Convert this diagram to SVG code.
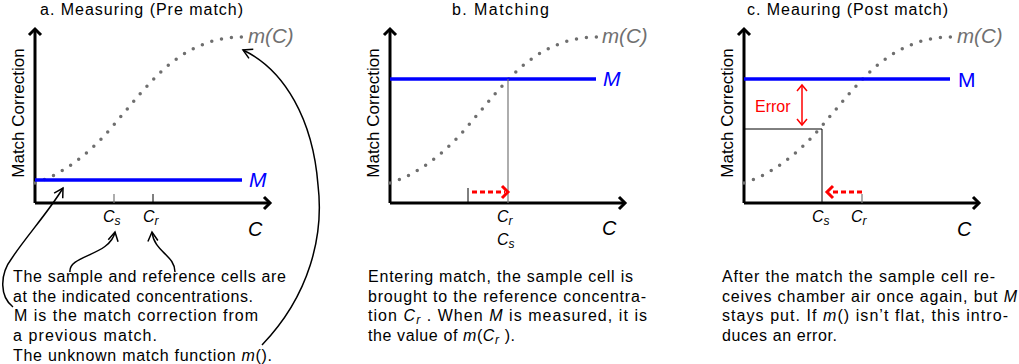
<svg xmlns="http://www.w3.org/2000/svg" width="1019" height="364" viewBox="0 0 1019 364">
<defs>
<style>
text{font-family:"Liberation Sans",Arial,sans-serif;fill:#000}
.title{font-size:16px}
.ylab{font-size:17px;text-anchor:middle}
.para{font-size:16px}
.it{font-style:italic}
.mc{font-size:20.5px;font-style:italic;fill:#707070}
.mlab{font-size:21px;fill:#0000ff}
.tick{font-size:16px;font-style:italic}
.sub{font-size:12px;font-style:italic}
.cax{font-size:20px;font-style:italic}
.axis{fill:none;stroke:#000;stroke-width:3;stroke-linejoin:miter}
.curve{fill:none;stroke:#6e6e6e;stroke-width:3.5;stroke-linecap:round;stroke-dasharray:0 10}
.mline{stroke:#0000ff;stroke-width:3.5}
.thin{stroke:#000;stroke-width:1;fill:none}
.gthin{stroke:#777;stroke-width:1.2;fill:none}
.conn{fill:none;stroke:#000;stroke-width:1.5;marker-end:url(#ah)}
.reddot{fill:none;stroke:#ff0000;stroke-width:3;stroke-dasharray:5 3}
.redhead{fill:none;stroke:#ff0000;stroke-width:3}
.err{fill:none;stroke:#ff0000;stroke-width:1.5;marker-start:url(#rh);marker-end:url(#rh)}
</style>
<marker id="ah" markerUnits="userSpaceOnUse" orient="auto" refX="0" refY="0" overflow="visible">
<path d="M -9,-5 L 0,0 L -9,5" fill="none" stroke="#000" stroke-width="1.5"/>
</marker>
<marker id="rh" markerUnits="userSpaceOnUse" orient="auto-start-reverse" refX="0" refY="0" overflow="visible">
<path d="M -6,-5 L 0,0 L -6,5" fill="none" stroke="#ff0000" stroke-width="1.5"/>
</marker>
<path id="mcurve" d="M 0,183 C 25,175 50,158 75,129.3 C 96,105 116.7,77.7 137.7,61.7 C 160.7,44.2 184,37 207,37"/>
</defs>

<!-- Panel a -->
<g id="panel-a">
<text class="title" x="40" y="15" textLength="203" lengthAdjust="spacing">a.  Measuring (Pre match)</text>
<g id="a-axes">
<polyline class="axis" points="35,203 35,29"/>
<polyline class="axis" points="29,35 35,29 41,35"/>
<polyline class="axis" points="35,203 270,203"/>
<polyline class="axis" points="264,197 270,203 264,209"/>
<text class="ylab" transform="translate(24,113) rotate(-90)">Match Correction</text>
<text class="cax" x="248" y="236">C</text>
</g>
<g id="a-curve">
<use href="#mcurve" class="curve" transform="translate(35,0)"/>
<text class="mc" x="248" y="43">m(C)</text>
</g>
<g id="a-M">
<line class="mline" x1="35" y1="180" x2="242" y2="180"/>
<text class="mlab it" x="249" y="187">M</text>
</g>
<g id="a-ticks">
<line class="gthin" x1="114" y1="194" x2="114" y2="203"/>
<line class="thin" x1="153" y1="194" x2="153" y2="203"/>
<text class="tick" x="103" y="222">C<tspan class="sub" dy="3">s</tspan></text>
<text class="tick" x="143" y="222">C<tspan class="sub" dy="3">r</tspan></text>
</g>
<g id="a-text" class="para">
<text x="13" y="282" textLength="273" lengthAdjust="spacing">The sample and reference cells are</text>
<text x="13" y="301.5" textLength="240" lengthAdjust="spacing">at the indicated concentrations.</text>
<text x="14" y="321" textLength="244" lengthAdjust="spacing">M is the match correction from</text>
<text x="13" y="341" textLength="144" lengthAdjust="spacing">a previous match.</text>
<text x="13" y="360.5" textLength="259" lengthAdjust="spacing">The unknown match function <tspan class="it">m</tspan>().</text>
</g>
</g>

<!-- Panel b -->
<g id="panel-b">
<text class="title" x="452" y="15" textLength="97" lengthAdjust="spacing">b.  Matching</text>
<g id="b-axes">
<polyline class="axis" points="390,203 390,29"/>
<polyline class="axis" points="384,35 390,29 396,35"/>
<polyline class="axis" points="390,203 625,203"/>
<polyline class="axis" points="619,197 625,203 619,209"/>
<text class="ylab" transform="translate(379,113) rotate(-90)">Match Correction</text>
<text class="cax" x="602" y="235">C</text>
</g>
<g id="b-curve">
<use href="#mcurve" class="curve" transform="translate(390,0)"/>
<text class="mc" x="602" y="43">m(C)</text>
</g>
<g id="b-M">
<line class="mline" x1="390" y1="79" x2="596" y2="79"/>
<text class="mlab it" x="603" y="86">M</text>
</g>
<g id="b-ticks">
<line class="gthin" x1="508" y1="79" x2="508" y2="203"/>
<line class="thin" x1="468" y1="188" x2="468" y2="203"/>
<text class="tick" x="497" y="222">C<tspan class="sub" dy="3">r</tspan></text>
<text class="tick" x="497" y="245">C<tspan class="sub" dy="3">s</tspan></text>
</g>
<g id="b-text" class="para">
<text x="368" y="282" textLength="265" lengthAdjust="spacing">Entering match, the sample cell is</text>
<text x="368" y="301.5" textLength="278" lengthAdjust="spacing">brought to the reference concentra-</text>
<text x="368" y="321" textLength="279" lengthAdjust="spacing">tion <tspan class="it">C</tspan><tspan class="sub" dy="3">r</tspan><tspan dy="-3"> .  When </tspan><tspan class="it">M</tspan>  is measured, it is</text>
<text x="368" y="341" textLength="147" lengthAdjust="spacing">the value of <tspan class="it">m</tspan>(<tspan class="it">C</tspan><tspan class="sub" dy="3">r</tspan><tspan dy="-3"> ).</tspan></text>
</g>
</g>

<!-- Panel c -->
<g id="panel-c">
<text class="title" x="747" y="15" textLength="201" lengthAdjust="spacing">c.  Meauring (Post match)</text>
<g id="c-axes">
<polyline class="axis" points="744,203 744,29"/>
<polyline class="axis" points="738,35 744,29 750,35"/>
<polyline class="axis" points="744,203 979,203"/>
<polyline class="axis" points="973,197 979,203 973,209"/>
<text class="ylab" transform="translate(733,113) rotate(-90)">Match Correction</text>
<text class="cax" x="957" y="236">C</text>
</g>
<g id="c-curve">
<use href="#mcurve" class="curve" transform="translate(744,0)"/>
<text class="mc" x="957" y="43">m(C)</text>
</g>
<g id="c-M">
<line class="mline" x1="744" y1="79" x2="950" y2="79"/>
<text class="mlab" x="958" y="87">M</text>
</g>
<g id="c-ticks">
<polyline class="thin" points="744,129 822,129 822,203"/>
<line class="gthin" x1="862" y1="194" x2="862" y2="203"/>
<text class="tick" x="812" y="222">C<tspan class="sub" dy="3">s</tspan></text>
<text class="tick" x="851" y="222">C<tspan class="sub" dy="3">r</tspan></text>
</g>
<g id="c-error">
<text x="755" y="112" style="font-size:16px;fill:#ff0000">Error</text>
</g>
<g id="c-text" class="para">
<text x="722" y="282" textLength="273" lengthAdjust="spacing">After the match the sample cell re-</text>
<text x="722" y="301.5" textLength="295" lengthAdjust="spacing">ceives chamber air once again, but <tspan class="it">M</tspan></text>
<text x="722" y="321" textLength="286" lengthAdjust="spacing">stays put.  If <tspan class="it">m</tspan>() isn’t flat, this intro-</text>
<text x="722" y="341" textLength="115" lengthAdjust="spacing">duces an error.</text>
</g>
</g>

<!-- Connectors -->
<g id="connectors">
<path class="conn" d="M 13,307 C 0,297 -1,275 12,258 C 25,238 50,210 63,188"/>
<path class="conn" d="M 70,272 C 68,255 110,256 115,232"/>
<path class="conn" d="M 175,272 C 175,255 154,252 152,232"/>
<path class="conn" d="M 262,345 C 310,295 324,235 318,185 C 313,120 285,70 243,50"/>
<line class="reddot" x1="472" y1="192" x2="505" y2="192"/>
<polyline class="redhead" points="502,186 508,192 502,198"/>
<line class="reddot" x1="862" y1="192" x2="830" y2="192"/>
<polyline class="redhead" points="833,186 827,192 833,198"/>
<line class="err" x1="802" y1="85" x2="802" y2="125"/>
</g>
</svg>
